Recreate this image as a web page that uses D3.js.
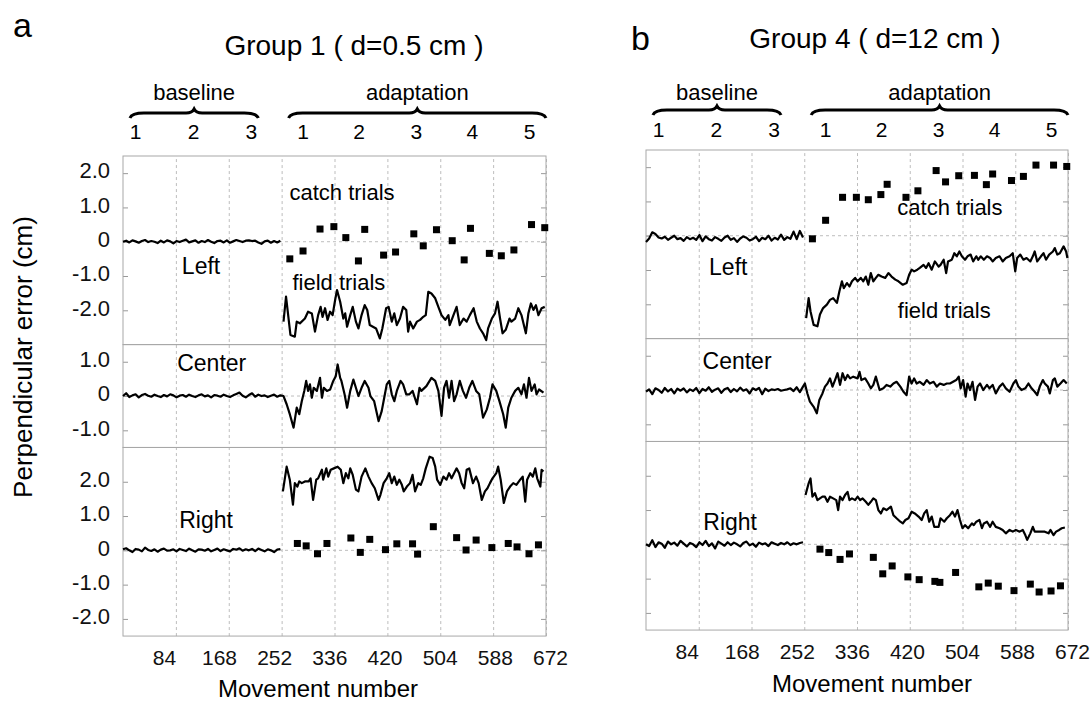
<!DOCTYPE html>
<html>
<head>
<meta charset="utf-8">
<script src="https://cdn.jsdelivr.net/npm/d3@7"></script>
<style>
  body { margin: 0; background: #fff; }
  svg { font-family: "Liberation Sans", Arial, sans-serif; }
</style>
</head>
<body>
<div id="chart"></div>
<script>
// ---- data ----
const xTicks = [84, 168, 252, 336, 420, 504, 588, 672];
const baseBlocks = [20, 112, 204];
const adaptBlocks = [286, 375, 466, 555, 646];
const subNames = ["Left", "Center", "Right"];
const subDomains = [[-3, 2.5], [-1.5, 1.5], [-2.5, 3]];
const subTicks = [[-2, -1, 0, 1, 2], [-1, 0, 1], [-2, -1, 0, 1, 2]];

// baseline movements (every 5th)
const baseMoves = [0,5,10,15,20,25,30,35,40,45,50,55,60,65,70,75,80,85,90,95,100,105,110,115,120,125,130,135,140,145,150,155,160,165,170,175,180,185,190,195,200,205,210,215,220,225,230,235,240,245,250];

const aLeftBase = [0.00,0.03,-0.02,0.04,0.01,-0.03,0.02,0.05,-0.01,0.02,0.00,-0.04,0.03,-0.02,0.04,0.01,-0.05,0.02,-0.01,0.03,0.06,-0.02,0.01,0.04,-0.03,0.02,-0.01,0.05,0.00,-0.04,0.02,0.03,-0.02,0.04,-0.03,0.01,0.05,0.02,-0.01,0.03,0.04,0.02,0.03,-0.02,-0.06,0.01,0.03,-0.03,0.02,-0.02,0.03];
const aCenterBase = [0.00,0.08,-0.03,0.02,0.05,-0.04,0.03,0.06,0.01,-0.02,0.04,0.00,-0.03,0.03,-0.01,0.05,0.02,-0.04,0.01,0.03,-0.02,0.04,0.00,-0.03,0.02,0.05,-0.01,0.02,-0.04,0.03,0.01,-0.02,0.04,0.00,-0.03,0.02,0.06,0.10,0.01,-0.04,0.03,0.08,-0.02,0.04,0.00,0.02,-0.03,0.01,0.04,-0.02,0.02];
const aRightBase = [0.03,0.06,0.00,-0.05,0.04,0.02,-0.03,0.08,0.01,-0.02,0.03,-0.04,0.02,0.05,-0.01,0.00,0.03,-0.03,0.04,0.01,-0.02,0.05,0.00,-0.04,0.03,0.02,-0.01,0.04,-0.03,0.01,0.05,-0.02,0.03,0.00,-0.03,0.04,0.02,0.06,-0.01,0.03,0.00,0.04,-0.02,0.05,0.01,-0.03,0.03,0.00,-0.05,0.02,0.04];
const bLeftBase = [-0.18,-0.08,0.10,0.05,-0.05,-0.08,-0.03,-0.12,-0.06,0.00,-0.10,-0.07,-0.15,-0.04,-0.10,-0.06,-0.12,0.02,-0.16,-0.02,-0.10,-0.14,-0.04,-0.09,-0.15,-0.05,0.00,-0.12,-0.07,-0.18,-0.08,-0.02,-0.06,-0.14,-0.10,-0.03,-0.16,-0.06,-0.10,0.00,-0.14,-0.06,-0.11,0.03,-0.12,-0.04,-0.09,0.12,-0.10,0.14,-0.05];
const bCenterBase = [-0.05,0.02,-0.12,0.05,0.00,-0.08,0.06,-0.04,0.03,-0.10,0.04,-0.02,0.05,-0.07,0.02,-0.03,0.06,-0.09,0.03,-0.02,0.08,-0.05,0.01,0.05,-0.08,0.02,0.06,-0.06,0.03,-0.04,0.07,-0.02,0.02,-0.10,0.05,0.00,0.06,-0.12,0.04,-0.03,0.02,0.00,0.03,-0.02,0.00,0.02,0.05,-0.03,0.08,-0.06,0.10];
const bRightBase = [0.00,-0.05,0.12,-0.08,0.06,0.02,-0.10,0.08,0.00,0.05,-0.04,0.10,0.02,-0.06,0.04,0.00,-0.08,0.06,-0.02,0.10,-0.05,0.03,-0.12,0.08,0.02,-0.04,0.06,-0.02,0.05,0.00,-0.06,0.04,0.08,-0.03,0.02,-0.07,0.05,0.00,0.03,-0.05,0.06,0.02,-0.02,0.04,0.00,0.06,-0.02,0.03,0.00,0.04,0.06];

// field trials: [movement, error]
const aLeftField = [[255,-2.33],[259,-1.60],[266,-2.72],[273,-2.77],[276,-2.33],[281,-2.38],[289,-2.24],[294,-2.04],[300,-2.09],[305,-2.62],[310,-2.14],[314,-1.90],[317,-2.19],[321,-1.94],[325,-2.28],[329,-2.04],[333,-2.14],[337,-1.70],[340,-1.41],[345,-1.75],[350,-2.24],[353,-2.09],[356,-2.48],[361,-2.14],[365,-1.90],[370,-2.33],[374,-2.53],[379,-2.14],[384,-1.85],[388,-1.99],[392,-2.43],[397,-2.48],[402,-2.53],[408,-2.82],[412,-2.53],[418,-1.94],[422,-1.90],[427,-2.33],[431,-2.09],[435,-2.43],[440,-2.24],[445,-1.90],[450,-1.99],[453,-2.62],[456,-2.33],[461,-2.53],[467,-2.33],[472,-2.28],[477,-2.19],[481,-2.14],[485,-1.46],[490,-1.51],[496,-1.65],[501,-1.90],[506,-2.14],[512,-2.28],[517,-2.14],[519,-2.43],[525,-2.14],[530,-1.90],[535,-2.43],[541,-2.24],[546,-2.33],[551,-2.14],[557,-1.94],[562,-2.33],[567,-2.53],[572,-2.67],[577,-2.87],[580,-2.53],[586,-2.24],[591,-2.09],[595,-1.75],[599,-2.24],[603,-2.67],[608,-2.57],[614,-2.24],[617,-2.33],[623,-2.24],[628,-1.94],[633,-2.14],[640,-2.67],[644,-2.09],[648,-1.80],[652,-1.99],[656,-1.85],[660,-2.14],[665,-1.94],[670,-1.90]];
const aCenterField = [[255,0],[260,-0.24],[265,-0.53],[271,-0.92],[276,-0.34],[280,-0.53],[284,-0.15],[288,0.15],[291,0.44],[294,0.15],[297,0.34],[300,-0.05],[303,0.24],[308,0.15],[313,0.53],[316,-0.05],[319,0.24],[324,0.15],[329,0.19],[334,0.44],[338,0.58],[341,0.92],[345,0.53],[347,0.44],[352,0.05],[356,-0.34],[361,0.15],[366,0.48],[370,0.24],[374,0],[379,0.24],[384,0.44],[390,0.24],[393,0],[399,-0.15],[406,-0.73],[411,-0.44],[415,-0.05],[419,0.34],[423,0.44],[427,0.05],[431,-0.15],[435,0.15],[441,0.44],[445,0.34],[450,0.05],[455,0.05],[460,0.15],[467,-0.24],[471,0.24],[474,0.15],[482,0.29],[490,0.53],[496,0.44],[501,0.15],[506,-0.58],[510,0.24],[514,0.44],[518,-0.05],[522,0.44],[526,-0.15],[530,0.05],[535,0.44],[540,0.15],[545,-0.05],[550,0.24],[555,0.44],[561,0.15],[566,0.05],[572,-0.63],[578,-0.39],[583,-0.05],[587,0.34],[593,0.15],[598,-0.15],[604,-0.53],[608,-0.92],[612,-0.34],[617,-0.05],[623,0.15],[628,0.24],[633,0.05],[637,0.34],[641,-0.05],[645,0.53],[649,0.15],[654,0.34],[657,0.05],[661,0.19],[668,0.10]];
const aRightField = [[254,1.72],[260,2.44],[265,2.06],[270,1.33],[273,1.96],[277,1.86],[280,2.01],[284,1.96],[289,2.01],[295,2.01],[298,2.10],[302,1.47],[307,2.06],[310,2.10],[316,2.35],[318,2.06],[323,2.39],[326,2.15],[330,2.35],[335,2.39],[341,2.44],[346,2.35],[350,1.96],[354,2.25],[358,2.10],[361,2.39],[365,2.20],[370,1.77],[374,1.72],[379,2.15],[385,2.39],[390,2.15],[395,1.96],[400,1.81],[406,1.47],[409,1.62],[414,1.96],[419,2.10],[423,2.25],[427,1.96],[431,2.15],[435,1.91],[439,2.06],[443,1.91],[446,1.72],[451,1.86],[456,1.96],[460,2.20],[464,1.72],[469,1.96],[473,1.91],[477,2.10],[481,2.39],[487,2.73],[492,2.69],[496,2.44],[499,2.06],[504,1.91],[509,2.15],[514,2.06],[518,2.25],[522,2.10],[526,2.25],[530,2.39],[534,2.25],[538,1.96],[542,1.81],[546,2.35],[550,2.39],[556,1.96],[561,2.15],[565,1.96],[570,1.47],[575,1.72],[579,1.81],[583,1.96],[587,2.10],[593,2.25],[596,2.44],[600,2.06],[605,1.38],[610,1.72],[615,1.86],[620,1.96],[625,1.91],[631,2.06],[635,2.15],[639,1.42],[642,2.06],[647,2.25],[651,2.15],[655,2.39],[658,2.10],[663,1.86],[665,2.35],[668,2.30]];
const bLeftField = [[255,-2.40],[259,-1.82],[262,-2.21],[267,-2.60],[273,-2.64],[277,-2.30],[282,-2.11],[288,-2.01],[293,-1.87],[298,-1.82],[304,-1.96],[308,-1.62],[312,-1.33],[315,-1.53],[320,-1.38],[324,-1.48],[328,-1.33],[333,-1.23],[337,-1.33],[342,-1.23],[346,-1.33],[350,-1.19],[354,-1.43],[358,-1.09],[362,-1.33],[366,-1.23],[370,-1.14],[375,-1.19],[381,-1.23],[386,-1.09],[391,-1.19],[397,-1.28],[402,-1.33],[409,-1.43],[415,-1.38],[419,-1.14],[423,-0.99],[427,-1.04],[432,-0.99],[436,-0.94],[442,-0.85],[446,-0.94],[450,-0.80],[455,-0.99],[460,-0.75],[466,-0.90],[469,-0.85],[474,-0.70],[478,-1.09],[481,-0.75],[487,-0.70],[491,-0.51],[495,-0.60],[499,-0.46],[503,-0.60],[508,-0.70],[512,-0.60],[517,-0.55],[521,-0.75],[526,-0.60],[529,-0.70],[533,-0.60],[538,-0.70],[543,-0.60],[548,-0.65],[552,-0.75],[557,-0.65],[563,-0.60],[568,-0.75],[573,-0.65],[579,-0.60],[584,-0.51],[588,-1.04],[591,-0.65],[596,-0.55],[601,-0.70],[606,-0.65],[612,-0.75],[616,-0.60],[619,-0.46],[623,-0.75],[629,-0.60],[633,-0.51],[637,-0.70],[642,-0.55],[648,-0.46],[651,-0.36],[655,-0.55],[659,-0.51],[665,-0.31],[669,-0.46],[671,-0.65]];
const bCenterField = [[253,0.19],[257,-0.10],[261,-0.34],[267,-0.49],[272,-0.68],[276,-0.29],[281,-0.10],[285,0.10],[289,0.19],[293,0.34],[297,0.10],[301,0.29],[305,0.49],[309,0.15],[313,0.49],[317,0.29],[321,0.44],[325,0.34],[330,0.39],[337,0.34],[340,0.53],[343,0.29],[349,0.34],[354,0.19],[358,0.05],[362,0.15],[366,0.39],[372,0],[378,0.05],[383,0.15],[389,0.10],[394,0.19],[399,0.24],[405,0.10],[410,-0.05],[415,-0.15],[419,0.39],[423,0.19],[427,0.34],[431,0.19],[436,0.24],[442,0.15],[447,0.29],[452,0.19],[458,0.24],[463,0.10],[468,0.19],[474,0.15],[479,0.19],[484,0.19],[489,0.24],[494,0.29],[498,0.39],[501,0.05],[505,0.29],[509,-0.19],[512,0.19],[516,0],[520,0.24],[524,-0.29],[528,0.10],[532,0.19],[537,0],[543,0.15],[547,0.05],[552,0.15],[557,-0.10],[563,0.10],[568,0.19],[573,0.05],[579,-0.05],[585,0.19],[589,0.29],[593,0.10],[598,0],[604,0.05],[609,0.19],[614,0.05],[619,-0.05],[623,-0.15],[627,0.10],[632,0.29],[635,0.19],[640,0.10],[643,-0.10],[648,0.29],[651,0.34],[655,0.10],[660,0.19],[665,0.29],[670,0.19]];
const bRightField = [[254,1.44],[259,1.78],[262,1.92],[265,1.39],[269,1.49],[273,1.29],[277,1.34],[281,1.39],[285,1.39],[289,1.24],[293,1.39],[298,1.34],[303,1.29],[306,1.00],[309,1.39],[313,1.29],[317,1.44],[321,1.53],[324,1.29],[328,1.34],[333,1.29],[337,1.39],[341,1.29],[345,1.34],[350,1.24],[354,1.15],[358,1.24],[362,1.34],[366,1.29],[370,1.00],[374,0.90],[378,1.05],[383,1.00],[390,1.10],[394,0.85],[399,0.76],[405,0.66],[409,0.61],[413,0.71],[418,0.76],[423,0.95],[428,0.90],[434,0.81],[439,0.71],[443,0.90],[447,1.00],[451,0.66],[455,0.81],[459,0.51],[466,0.51],[469,0.76],[475,0.66],[479,0.76],[484,0.85],[488,0.95],[492,0.81],[496,1.00],[500,0.71],[504,0.47],[508,0.56],[513,0.47],[519,0.61],[522,0.56],[526,0.66],[531,0.71],[535,0.47],[538,0.61],[543,0.66],[548,0.51],[552,0.66],[557,0.51],[563,0.47],[568,0.42],[573,0.32],[579,0.42],[584,0.37],[589,0.42],[595,0.37],[600,0.42],[604,0.27],[607,0.13],[612,0.32],[616,0.51],[619,0.37],[625,0.37],[630,0.37],[635,0.37],[641,0.32],[644,0.42],[649,0.27],[653,0.37],[658,0.42],[662,0.47],[667,0.49]];

// catch trials
const catchLeftMoves = [265,286,313,335,354,374,384,414,433,462,477,498,523,542,552,582,601,621,649,670];
const catchRightMoves = [277,291,309,324,362,377,392,417,435,460,468,493,530,545,561,586,612,626,645,660];
const aCatchLeft = [-0.50,-0.27,0.37,0.44,0.12,-0.56,0.36,-0.39,-0.30,0.23,-0.12,0.35,0.03,-0.53,0.39,-0.34,-0.41,-0.24,0.50,0.41];
const aCatchRight = [0.20,0.13,-0.10,0.20,0.36,-0.06,0.32,0.02,0.19,0.19,-0.11,0.69,0.37,0.01,0.30,0.08,0.20,0.10,-0.10,0.16];
const bCatchLeft = [-0.09,0.45,1.12,1.12,1.05,1.20,1.50,1.12,1.31,1.90,1.57,1.75,1.76,1.49,1.80,1.61,1.73,2.06,2.06,2.02];
const bCatchRight = [-0.14,-0.24,-0.44,-0.28,-0.38,-0.86,-0.63,-0.95,-1.03,-1.08,-1.11,-0.82,-1.24,-1.13,-1.22,-1.35,-1.16,-1.39,-1.36,-1.21];

// ---- layout ----
const width = 1092, height = 705, unit = 34.29;

const panels = [
  { letter: "a", title: "Group 1 ( d=0.5 cm )", left: 123, right: 546, top: 156,
    letterXY: [13, 37], titleXY: [354, 55], headY: [100, 113, 139], xlabXY: [318, 697], tickLabels: true,
    base: [aLeftBase, aCenterBase, aRightBase], field: [aLeftField, aCenterField, aRightField],
    catchL: aCatchLeft, catchR: aCatchRight,
    names: [[124, -0.71], [141, 0.96], [132, 0.88]], catchTxt: [348, 1.45], fieldTxt: [343, -1.2] },
  { letter: "b", title: "Group 4 ( d=12 cm )", left: 646, right: 1068, top: 150,
    letterXY: [631, 50], titleXY: [875, 48], headY: [100, 110, 137], xlabXY: [872, 692], tickLabels: false,
    base: [bLeftBase, bCenterBase, bRightBase], field: [bLeftField, bCenterField, bRightField],
    catchL: bCatchLeft, catchR: bCatchRight,
    names: [[131, -0.91], [145, 0.85], [134, 0.65]], catchTxt: [484, 0.81], fieldTxt: [475, -2.17] }
];

const svg = d3.select("#chart").append("svg")
  .attr("width", width)
  .attr("height", height);

// y axis title
svg.append("text")
  .attr("transform", "translate(32,357) rotate(-90)")
  .attr("text-anchor", "middle")
  .style("font-size", "26px")
  .text("Perpendicular error (cm)");

// plain hyphen for negatives, as in the figure
const fmt = v => v === 0 ? "0" : v.toFixed(1);

function brace(x1, x2, y) {
  const m = (x1 + x2) / 2;
  return `M${x1},${y + 5} Q${x1 + 2},${y} ${x1 + 14},${y} L${m - 8},${y} Q${m - 2},${y} ${m},${y - 4} Q${m + 2},${y} ${m + 8},${y} L${x2 - 14},${y} Q${x2 - 2},${y} ${x2},${y + 5}`;
}

panels.forEach(p => {
  const g = svg.append("g");
  const x = d3.scaleLinear().domain([0, 672]).range([p.left, p.right]);
  const bottom = p.top + 14 * unit;

  g.append("text").attr("x", p.letterXY[0]).attr("y", p.letterXY[1])
    .style("font-size", "34px").text(p.letter);
  g.append("text").attr("x", p.titleXY[0]).attr("y", p.titleXY[1])
    .attr("text-anchor", "middle").style("font-size", "28px").text(p.title);

  // block header
  const [txtY, brY, numY] = p.headY;
  [[11, 215, "baseline", baseBlocks], [263, 672, "adaptation", adaptBlocks]].forEach(([a, b, name, blocks]) => {
    g.append("path").attr("d", brace(x(a), x(b), brY))
      .attr("fill", "none").attr("stroke", "#000").attr("stroke-width", 3);
    g.append("text").attr("x", x((a + b) / 2)).attr("y", txtY)
      .attr("text-anchor", "middle").style("font-size", "22px").text(name);
    g.selectAll(null).data(blocks).enter().append("text")
      .attr("x", d => x(d)).attr("y", numY)
      .attr("text-anchor", "middle").style("font-size", "21px")
      .text((d, i) => i + 1);
  });

  // x gridlines + tick labels
  const xa = g.append("g").attr("transform", `translate(0,${bottom})`)
    .call(d3.axisBottom(x).tickValues(xTicks).tickSize(-(bottom - p.top)).tickPadding(14));
  xa.select(".domain").remove();
  xa.selectAll(".tick line").attr("stroke", "#bdbdbd").attr("stroke-dasharray", "3,3");
  xa.selectAll(".tick text")
    .attr("dx", d => -12 + (d - 84) / 588 * 16)
    .style("font-size", "21px").style("font-family", "Liberation Sans, Arial, sans-serif").attr("fill", "#111");

  g.append("text").attr("x", p.xlabXY[0]).attr("y", p.xlabXY[1])
    .attr("text-anchor", "middle").style("font-size", "24px").text("Movement number");

  const line = (y) => d3.line().x(d => x(d[0])).y(d => y(d[1]));

  let y0 = p.top;
  subDomains.forEach((dom, i) => {
    const h = (dom[1] - dom[0]) * unit;
    const y = d3.scaleLinear().domain(dom).range([y0 + h, y0]);

    // zero line
    g.append("line").attr("x1", p.left).attr("x2", p.right)
      .attr("y1", y(0)).attr("y2", y(0))
      .attr("stroke", "#bdbdbd").attr("stroke-dasharray", "3,3");

    // ticks both sides
    const ya = g.append("g").attr("transform", `translate(${p.left},0)`)
      .call(d3.axisLeft(y).tickValues(subTicks[i]).tickSize(-5).tickPadding(13)
        .tickFormat(p.tickLabels ? fmt : ""));
    ya.select(".domain").remove();
    ya.selectAll(".tick line").attr("stroke", "#999");
    ya.selectAll(".tick text").attr("dy", "0.22em").attr("fill", "#111")
      .style("font-size", "22px").style("font-family", "Liberation Sans, Arial, sans-serif");
    const yr = g.append("g").attr("transform", `translate(${p.right},0)`)
      .call(d3.axisRight(y).tickValues(subTicks[i]).tickSize(-5).tickFormat(""));
    yr.select(".domain").remove();
    yr.selectAll(".tick line").attr("stroke", "#999");

    // frame of subpanel
    g.append("rect").attr("x", p.left).attr("y", y0)
      .attr("width", p.right - p.left).attr("height", h)
      .attr("fill", "none").attr("stroke", "#a8a8a8");

    // data
    const basePts = baseMoves.map((m, k) => [m, p.base[i][k]]);
    const series = i === 1 ? [basePts.concat(p.field[i])] : [basePts, p.field[i]];
    series.forEach(s => {
      g.append("path").datum(s).attr("d", line(y))
        .attr("fill", "none").attr("stroke", "#000")
        .attr("stroke-width", 2.2).attr("stroke-linejoin", "round");
    });

    const catchVals = i === 0 ? p.catchL : i === 2 ? p.catchR : null;
    if (catchVals) {
      const moves = i === 0 ? catchLeftMoves : catchRightMoves;
      g.selectAll(null).data(moves.map((m, k) => [m, catchVals[k]])).enter()
        .append("rect")
        .attr("x", d => x(d[0]) - 3.5).attr("y", d => y(d[1]) - 3.5)
        .attr("width", 7).attr("height", 7).attr("fill", "#000");
    }

    // subpanel name
    g.append("text").attr("x", x(p.names[i][0])).attr("y", y(p.names[i][1]))
      .attr("text-anchor", "middle").attr("dominant-baseline", "central")
      .style("font-size", "23px").text(subNames[i]);

    if (i === 0) {
      g.append("text").attr("x", x(p.catchTxt[0])).attr("y", y(p.catchTxt[1]))
        .attr("text-anchor", "middle").attr("dominant-baseline", "central")
        .style("font-size", "22px").text("catch trials");
      g.append("text").attr("x", x(p.fieldTxt[0])).attr("y", y(p.fieldTxt[1]))
        .attr("text-anchor", "middle").attr("dominant-baseline", "central")
        .style("font-size", "22px").text("field trials");
    }
    y0 += h;
  });
});
</script>
</body>
</html>
